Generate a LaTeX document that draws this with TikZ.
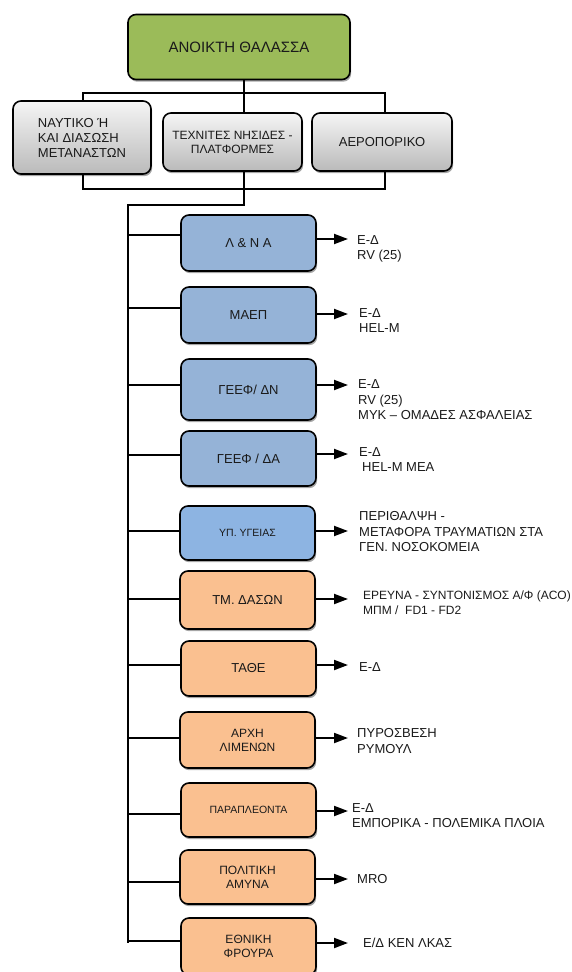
\documentclass[tikz,border=0pt]{standalone}
\usepackage{fontspec}
\setmainfont{Liberation Sans}
\usetikzlibrary{arrows.meta,shadows,calc}
\definecolor{cgreen}{HTML}{9BBB59}
\definecolor{cblue}{HTML}{95B3D7}
\definecolor{cblue2}{HTML}{8DB4E2}
\definecolor{corange}{HTML}{FAC090}
\definecolor{ctext}{HTML}{1A1A1A}
\begin{document}
\begin{tikzpicture}[x=1pt,y=-1pt,
  box/.style={draw=black, line width=1.6pt, rounded corners=8pt, align=center,
    inner sep=0pt, text=ctext,
    drop shadow={shadow xshift=1.2pt, shadow yshift=-2.2pt, opacity=0.35, fill=black}},
  graybox/.style={box, top color=white!96!black, bottom color=black!27},
  bluebox/.style={box, fill=cblue, minimum width=135pt},
  blue2box/.style={box, fill=cblue2, minimum width=135pt},
  orbox/.style={box, fill=corange, minimum width=135pt},
  fa/.style={font=\fontsize{15}{17}\selectfont},
  fb/.style={font=\fontsize{13}{15}\selectfont},
  fc/.style={font=\fontsize{12}{14}\selectfont},
  fd/.style={font=\fontsize{10.5}{12}\selectfont},
  lab/.style={anchor=west, align=left, inner sep=0pt, text=ctext, font=\fontsize{13}{15.5}\selectfont},
  labs/.style={lab, font=\fontsize{12}{15}\selectfont},
  conn/.style={line width=1.5pt, draw=black},
  arr/.style={line width=2pt, draw=black, -{Triangle[length=14pt,width=10pt]}}
]
\useasboundingbox (0,0) rectangle (571,972);
\clip (0,0) rectangle (571,972);

% top level
\node[box, fill=cgreen, fa, minimum width=222pt, minimum height=65pt] (top) at (239,47) {ΑΝΟΙΚΤΗ ΘΑΛΑΣΣΑ};
\node[graybox, fb, minimum width=138pt, minimum height=73pt, align=left] (nav) at (82,137.5) {ΝΑΥΤΙΚΟ Ή\\ΚΑΙ ΔΙΑΣΩΣΗ\\ΜΕΤΑΝΑΣΤΩΝ};
\node[graybox, fc, minimum width=139pt, minimum height=58pt] (mid) at (232.5,142) {ΤΕΧΝΙΤΕΣ ΝΗΣΙΔΕΣ -\\ΠΛΑΤΦΟΡΜΕΣ};
\node[graybox, fb, minimum width=140pt, minimum height=58pt] (air) at (382,142) {ΑΕΡΟΠΟΡΙΚΟ};

\coordinate (jt) at (244,93);
\coordinate (jl) at (83,93);
\coordinate (jr) at (385,93);
\coordinate (bl) at (83,189);
\coordinate (br) at (385,189);
\coordinate (jd) at (244,205);
\coordinate (trtop) at (128,205);
\coordinate (trbot) at (128,943);

\draw[conn] (top.south -| jt) -- (jt) -- (jt |- mid.north);
\draw[conn] (jl |- nav.north) -- (jl) -- (jr) -- (jr |- air.north);
\draw[conn] (bl |- nav.south) -- (bl) -- (br) -- (br |- air.south);
\draw[conn] (jd |- mid.south) -- (jd) -- (trtop) -- (trbot);

% list boxes
\node[bluebox, fb, minimum height=56pt] (b1) at (248.5,243) {Λ \& Ν Α};
\node[bluebox, fb, minimum height=56pt] (b2) at (248.5,315) {ΜΑΕΠ};
\node[bluebox, fb, minimum height=61pt] (b3) at (248.5,389.5) {ΓΕΕΦ/ ΔΝ};
\node[bluebox, fb, minimum height=55pt] (b4) at (248.5,458.5) {ΓΕΕΦ / ΔΑ};
\node[blue2box, fd, minimum height=54pt] (b5) at (247.5,533) {ΥΠ. ΥΓΕΙΑΣ};
\node[orbox, fb, minimum height=58pt] (b6) at (247.5,600) {ΤΜ. ΔΑΣΩΝ};
\node[orbox, fb, minimum height=55pt] (b7) at (248.5,668.5) {ΤΑΘΕ};
\node[orbox, fc, minimum height=56pt] (b8) at (247.5,740) {ΑΡΧΗ\\ΛΙΜΕΝΩΝ};
\node[orbox, fd, minimum height=54pt] (b9) at (248.5,810) {ΠΑΡΑΠΛΕΟΝΤΑ};
\node[orbox, fc, minimum height=54pt] (b10) at (247.5,877) {ΠΟΛΙΤΙΚΗ\\ΑΜΥΝΑ};
\node[orbox, fc, minimum height=57pt] (b11) at (248.5,946.5) {ΕΘΝΙΚΗ\\ΦΡΟΥΡΑ};

% trunk branch points
\coordinate (t1) at (128,235);
\coordinate (t2) at (128,308);
\coordinate (t3) at (128,385);
\coordinate (t4) at (128,455);
\coordinate (t5) at (128,531);
\coordinate (t6) at (128,599);
\coordinate (t7) at (128,665);
\coordinate (t8) at (128,738);
\coordinate (t9) at (128,814);
\coordinate (t10) at (128,882);
\coordinate (t11) at (128,941);
\foreach \i in {1,...,11}{\draw[conn] (t\i) -- (t\i -| b\i.west);}

% arrow ends
\coordinate (a1) at (348,239);
\coordinate (a2) at (348,314);
\coordinate (a3) at (348,385);
\coordinate (a4) at (348,454);
\coordinate (a5) at (348,531);
\coordinate (a6) at (348,599);
\coordinate (a7) at (348,665);
\coordinate (a8) at (348,738);
\coordinate (a9) at (348,811);
\coordinate (a10) at (348,879);
\coordinate (a11) at (348,943);
\foreach \i in {1,...,11}{\draw[arr] (b\i.east |- a\i) -- (a\i);}

% labels
\node[lab] (l1) at (357,249) {Ε-Δ\\RV (25)};
\node[lab] (l2) at (359,320.5) {Ε-Δ\\HEL-M};
\node[lab] (l3) at (358,400) {Ε-Δ\\RV (25)\\ΜΥΚ – ΟΜΑΔΕΣ ΑΣΦΑΛΕΙΑΣ};
\node[lab] (l4) at (359,459.5) {Ε-Δ\\\hspace*{3pt}HEL-M ΜΕΑ};
\node[lab] (l5) at (359,532) {ΠΕΡΙΘΑΛΨΗ -\\ΜΕΤΑΦΟΡΑ ΤΡΑΥΜΑΤΙΩΝ ΣΤΑ\\ΓΕΝ. ΝΟΣΟΚΟΜΕΙΑ};
\node[labs] (l6) at (363,602.5) {ΕΡΕΥΝΑ - ΣΥΝΤΟΝΙΣΜΟΣ Α/Φ (ACO)\\ΜΠΜ /\ \ FD1 - FD2};
\node[lab] (l7) at (359,667) {Ε-Δ};
\node[lab] (l8) at (357,741) {ΠΥΡΟΣΒΕΣΗ\\ΡΥΜΟΥΛ};
\node[lab] (l9) at (352,815.5) {Ε-Δ\\ΕΜΠΟΡΙΚΑ - ΠΟΛΕΜΙΚΑ ΠΛΟΙΑ};
\node[lab] (l10) at (357,879) {MRO};
\node[lab] (l11) at (363,943) {Ε/Δ ΚΕΝ ΛΚΑΣ};
\end{tikzpicture}
\end{document}
